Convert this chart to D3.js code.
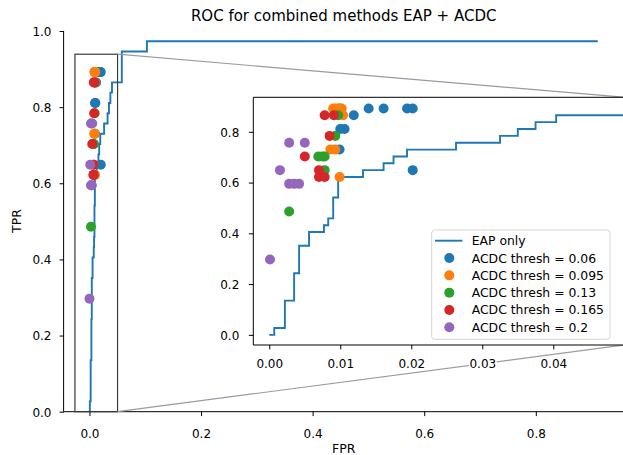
<!DOCTYPE html>
<html><head><meta charset="utf-8">
<script src="https://cdn.jsdelivr.net/npm/d3@7"></script>
<style>
body{margin:0;background:#fff;}
svg{display:block;font-family:"DejaVu Sans",sans-serif;}
</style></head>
<body>
<script>
// ---------- data ----------
const eapFpr = [0,0.0007,0.0007,0.0022,0.0022,0.0035,0.0035,0.0042,0.0042,0.0056,0.0056,0.0077,0.0077,0.0083,0.0083,0.009,0.009,0.0097,0.0097,0.0132,0.0132,0.0161,0.0161,0.0175,0.0175,0.0194,0.0194,0.0263,0.0263,0.0325,0.0325,0.035,0.035,0.0375,0.0375,0.0404,0.0404,0.058,0.058,0.103,0.103,0.911];
const eapTpr = [0,0,0.027,0.027,0.135,0.135,0.243,0.243,0.351,0.351,0.405,0.405,0.432,0.432,0.459,0.459,0.541,0.541,0.622,0.622,0.649,0.649,0.676,0.676,0.703,0.703,0.730,0.730,0.757,0.757,0.784,0.784,0.811,0.811,0.838,0.838,0.865,0.865,0.946,0.946,0.973,0.973];

const seriesNames = ["ACDC thresh = 0.06","ACDC thresh = 0.095","ACDC thresh = 0.13","ACDC thresh = 0.165","ACDC thresh = 0.2"];
const seriesColors = ["#1f77b4","#ff7f0e","#2ca02c","#d62728","#9467bd"];
const acdc006Fpr = [0.0099,0.0140,0.0161,0.0194,0.0202,0.0119,0.0100,0.0106,0.0099,0.0202];
const acdc006Tpr = [0.892,0.892,0.892,0.892,0.892,0.865,0.811,0.811,0.730,0.649];
const acdc0095Fpr = [0.0090,0.0094,0.0099,0.0102,0.0104,0.0086,0.0093,0.0099];
const acdc0095Tpr = [0.892,0.892,0.892,0.892,0.865,0.730,0.730,0.622];
const acdc013Fpr = [0.0097,0.0093,0.0069,0.0075,0.0078,0.0078,0.0028];
const acdc013Tpr = [0.865,0.784,0.703,0.703,0.703,0.649,0.486];
const acdc0165Fpr = [0.0078,0.0091,0.0085,0.0050,0.0070,0.0070,0.0078];
const acdc0165Tpr = [0.865,0.865,0.784,0.703,0.649,0.622,0.622];
const acdc02Fpr = [0.0028,0.0050,0.0015,0.0028,0.0035,0.0042,0.0001];
const acdc02Tpr = [0.757,0.757,0.649,0.595,0.595,0.595,0.297];

const mainXTicks = [0,0.2,0.4,0.6,0.8];
const mainYTicks = [0,0.2,0.4,0.6,0.8,1.0];
const insetXTicks = [0,0.01,0.02,0.03,0.04];
const insetYTicks = [0,0.2,0.4,0.6,0.8];

const seriesFpr = [acdc006Fpr,acdc0095Fpr,acdc013Fpr,acdc0165Fpr,acdc02Fpr];
const seriesTpr = [acdc006Tpr,acdc0095Tpr,acdc013Tpr,acdc0165Tpr,acdc02Tpr];

// ---------- layout ----------
const W = 623, H = 455;
const svg = d3.select("body").append("svg").attr("width",W).attr("height",H);

const xM = d3.scaleLinear().domain([-0.0456,0.957]).range([64,623.4]);
const yM = d3.scaleLinear().domain([0,1]).range([411.7,31]);
const xI = d3.scaleLinear().domain([-0.00225,0.05]).range([253.3,624.3]);
const yI = d3.scaleLinear().domain([-0.04,0.936]).range([345,97.3]);

const defs = svg.append("defs");
defs.append("clipPath").attr("id","cm").append("rect")
  .attr("x",64).attr("y",31).attr("width",559.4).attr("height",380.7);
defs.append("clipPath").attr("id","ci").append("rect")
  .attr("x",253.3).attr("y",97.3).attr("width",371).attr("height",247.7);

const eapPts = eapFpr.map((f,i)=>[f,eapTpr[i]]);

function drawAxes(g, xs, ys, xt, yt, xfmt, yfmt, xLabY, yLabX){
  const ax = g.append("g").attr("transform",`translate(0,${ys.range()[0]})`)
    .call(d3.axisBottom(xs).tickValues(xt).tickFormat(xfmt).tickSizeOuter(0).tickSize(4.4));
  ax.select(".domain").remove();
  ax.selectAll("line").attr("stroke","#000").attr("stroke-width",1);
  ax.selectAll("text").attr("y",xLabY).attr("dy",null).attr("fill","#000")
    .style("font-size","12px").style("font-family","DejaVu Sans");
  const ay = g.append("g").attr("transform",`translate(${xs.range()[0]},0)`)
    .call(d3.axisLeft(ys).tickValues(yt).tickFormat(yfmt).tickSizeOuter(0).tickSize(4.4));
  ay.select(".domain").remove();
  ay.selectAll("line").attr("stroke","#000").attr("stroke-width",1);
  ay.selectAll("text").attr("x",yLabX).attr("dy","0.36em").attr("fill","#000")
    .style("font-size","12px").style("font-family","DejaVu Sans");
  return [ax, ay];
}

// ---------- main axes ----------
const gm = svg.append("g");
const lineM = d3.line().x(d=>xM(d[0])).y(d=>yM(d[1]));
gm.append("path").attr("clip-path","url(#cm)").datum(eapPts).attr("d",lineM)
  .attr("fill","none").attr("stroke","#1f77b4").attr("stroke-width",1.9);
seriesFpr.forEach((fs,k)=>{
  gm.append("g").selectAll("circle").data(fs.map((f,i)=>[f,seriesTpr[k][i]])).join("circle")
    .attr("cx",d=>xM(d[0])).attr("cy",d=>yM(d[1])).attr("r",5).attr("fill",seriesColors[k]);
});
drawAxes(gm, xM, yM, mainXTicks, mainYTicks, d3.format(".1f"), d3.format(".1f"), 26.5, -12.5);
gm.append("line").attr("x1",63.6).attr("x2",623.4).attr("y1",411.7).attr("y2",411.7).attr("stroke","#000");
gm.append("line").attr("x1",63.6).attr("x2",63.6).attr("y1",31).attr("y2",411.7).attr("stroke","#000");

// zoom rectangle + connectors
const rectX0 = xM(-0.026), rectX1 = xM(0.0504), rectY0 = yM(0.939), rectY1 = yM(0);
gm.append("rect").attr("x",rectX0).attr("y",rectY0).attr("width",rectX1-rectX0).attr("height",rectY1-rectY0)
  .attr("fill","none").attr("stroke","#3a3a3a").attr("stroke-width",1.2);
svg.append("line").attr("x1",rectX1).attr("y1",rectY0).attr("x2",xI.range()[1]).attr("y2",yI.range()[1])
  .attr("stroke","#9a9aa6").attr("stroke-width",1.2);
svg.append("line").attr("x1",rectX1).attr("y1",rectY1).attr("x2",xI.range()[1]).attr("y2",yI.range()[0])
  .attr("stroke","#9a9aa6").attr("stroke-width",1.2);

// titles
svg.append("text").attr("x",343.7).attr("y",20.5).attr("text-anchor","middle")
  .style("font-size","15px").text("ROC for combined methods EAP + ACDC");
svg.append("text").attr("x",343.7).attr("y",453).attr("text-anchor","middle")
  .style("font-size","12.5px").text("FPR");
svg.append("text").attr("transform","translate(21,221) rotate(-90)").attr("text-anchor","middle")
  .style("font-size","12.5px").text("TPR");

// ---------- inset axes ----------
const gi = svg.append("g");
gi.append("rect").attr("x",253.3).attr("y",97.3).attr("width",371).attr("height",247.7).attr("fill","#fff");
const lineI = d3.line().x(d=>xI(d[0])).y(d=>yI(d[1]));
gi.append("path").attr("clip-path","url(#ci)").datum(eapPts).attr("d",lineI)
  .attr("fill","none").attr("stroke","#1f77b4").attr("stroke-width",1.9);
seriesFpr.forEach((fs,k)=>{
  gi.append("g").attr("clip-path","url(#ci)").selectAll("circle").data(fs.map((f,i)=>[f,seriesTpr[k][i]])).join("circle")
    .attr("cx",d=>xI(d[0])).attr("cy",d=>yI(d[1])).attr("r",5).attr("fill",seriesColors[k]);
});
const [iax] = drawAxes(gi, xI, yI, insetXTicks, insetYTicks, d3.format(".2f"), d3.format(".1f"), 23.3, -14);
iax.selectAll(".tick").insert("rect","text").attr("x",-14).attr("y",12).attr("width",28).attr("height",13).attr("fill","#fff");
gi.append("path").attr("d",`M253.3,345V97.3H625M253.3,345H625`).attr("fill","none").attr("stroke","#000").attr("stroke-width",1);

// legend
const lg = gi.append("g");
lg.append("rect").attr("x",431.7).attr("y",230).attr("width",178.3).attr("height",109.3).attr("rx",3)
  .attr("fill","#fff").attr("fill-opacity",0.8).attr("stroke","#d5d5d5");
const rowY = d3.scaleLinear().domain([0,5]).range([240.7,327.3]);
lg.append("line").attr("x1",435).attr("x2",462.3).attr("y1",rowY(0)).attr("y2",rowY(0))
  .attr("stroke","#1f77b4").attr("stroke-width",1.9);
lg.append("text").attr("x",471.7).attr("y",rowY(0)+4.5).style("font-size","12.4px").text("EAP only");
seriesNames.forEach((n,k)=>{
  lg.append("circle").attr("cx",449.3).attr("cy",rowY(k+1)).attr("r",5).attr("fill",seriesColors[k]);
  lg.append("text").attr("x",471.7).attr("y",rowY(k+1)+4.5).style("font-size","12.4px").text(n);
});
</script>
</body></html>
